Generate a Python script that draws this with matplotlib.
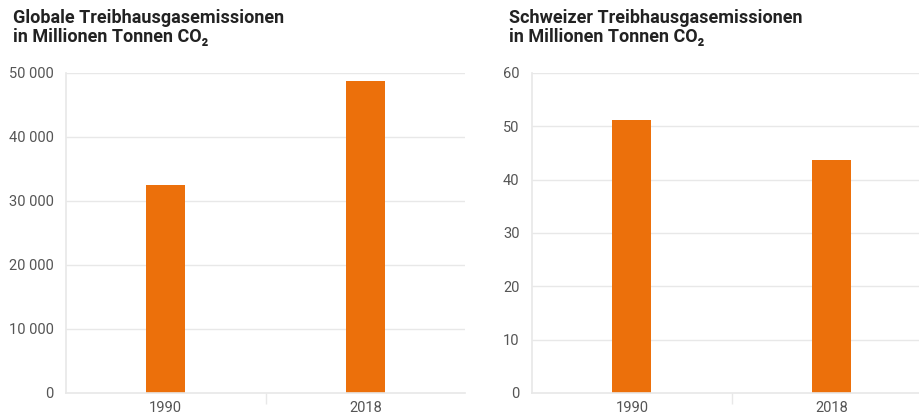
import matplotlib
matplotlib.use("Agg")
import matplotlib.pyplot as plt
from matplotlib.ticker import FuncFormatter, FixedLocator

# data
years = ["1990", "2018"]
global_vals = [32500, 48750]
swiss_vals = [51.2, 43.7]
global_ticks = [0, 10000, 20000, 30000, 40000, 50000]
swiss_ticks = [0, 10, 20, 30, 40, 50, 60]
titles = ["Globale Treibhausgasemissionen\nin Millionen Tonnen CO\u2082",
          "Schweizer Treibhausgasemissionen\nin Millionen Tonnen CO\u2082"]

plt.rcParams['font.family'] = ['Roboto', 'DejaVu Sans']

orange = '#ec700b'
grid_c = '#e8e8e8'
txt_c = '#555555'

fig = plt.figure(figsize=(9.2, 4.17), dpi=100)
ax1 = fig.add_axes([66/920, 24/417, 399/920, 320/417])
ax2 = fig.add_axes([532/920, 24/417, 400/920, 320/417])


def thousands(v, pos):
    return "{:,.0f}".format(v).replace(",", " ")


for ax, vals, ticks, title, tx in [(ax1, global_vals, global_ticks, titles[0], 13),
                                    (ax2, swiss_vals, swiss_ticks, titles[1], 509)]:
    x = range(len(years))
    ax.bar(x, vals, width=0.195, color=orange, zorder=3)
    ax.set_xlim(-0.5, len(years) - 0.5)
    ax.set_ylim(0, ticks[-1])
    ax.set_yticks(ticks)
    ax.yaxis.set_major_formatter(FuncFormatter(thousands))
    ax.set_xticks(list(x))
    ax.set_xticklabels(years)
    ax.xaxis.set_minor_locator(FixedLocator([0.5]))
    ax.tick_params(axis='x', which='major', length=0, pad=6, labelsize=10.5, labelcolor=txt_c)
    ax.tick_params(axis='x', which='minor', length=8, width=1, color=grid_c)
    ax.tick_params(axis='y', length=0, pad=9, labelsize=10.5, labelcolor=txt_c)
    ax.grid(axis='y', color=grid_c, linewidth=1, zorder=0)
    for s in ['top', 'right']:
        ax.spines[s].set_visible(False)
    for s in ['left', 'bottom']:
        ax.spines[s].set_color(grid_c)
        ax.spines[s].set_linewidth(1.2)
    ax.spines['bottom'].set_zorder(4)
    fig.text(tx/920, 1 - 9/417, title, ha='left', va='top', fontsize=13,
             fontweight='bold', color='#222222', linespacing=1.1)

fig.savefig("out.png", dpi=100)
